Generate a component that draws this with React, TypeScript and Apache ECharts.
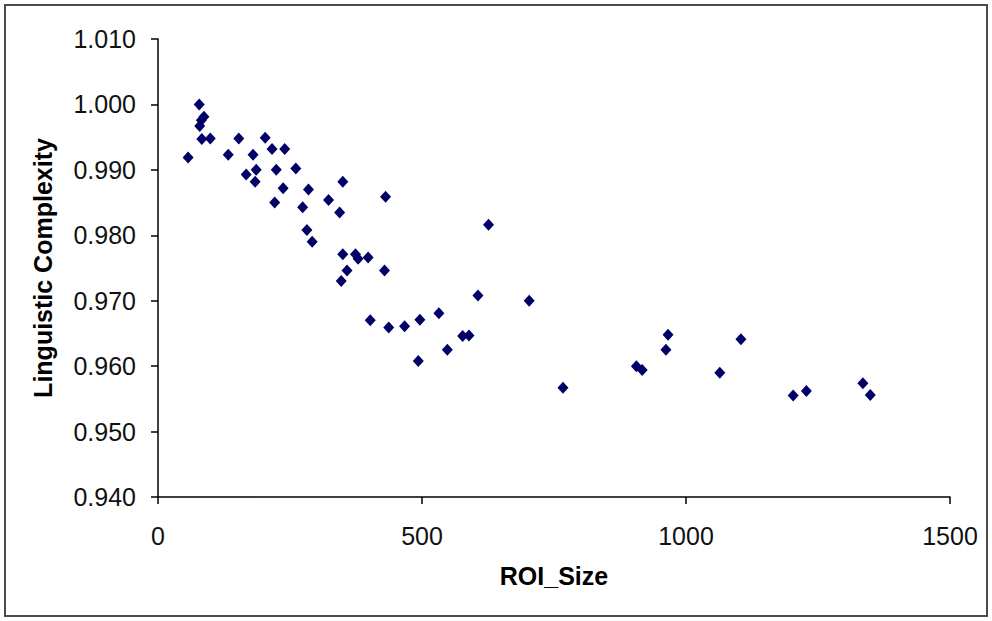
import React, { useEffect, useRef } from "react";
import * as echarts from "echarts";

const roiSize = [
  78, 87, 82, 79, 83, 99, 57, 153, 133, 203, 180, 216, 240, 167, 186, 184, 224, 261,
  237, 285, 221, 274, 350, 431, 323, 344, 282, 292, 350, 374, 379, 398, 358, 429,
  347, 626, 606, 703, 532, 496, 467, 437, 402, 577, 589, 548, 493, 767, 906, 917,
  966, 962, 1064, 1104, 1203, 1228, 1335, 1349,
];

const complexity = [
  1.0, 0.9981, 0.9976, 0.9967, 0.9947, 0.9948, 0.9919, 0.9948, 0.9923, 0.9949, 0.9923,
  0.9932, 0.9932, 0.9893, 0.99, 0.9882, 0.99, 0.9902, 0.9872, 0.987, 0.985, 0.9843,
  0.9882, 0.9859, 0.9854, 0.9835, 0.9808, 0.979, 0.9771, 0.9771, 0.9764, 0.9766,
  0.9746, 0.9746, 0.973, 0.9816, 0.9708, 0.97, 0.9681, 0.9671, 0.9661, 0.9659, 0.967,
  0.9646, 0.9647, 0.9625, 0.9608, 0.9567, 0.96, 0.9594, 0.9648, 0.9625, 0.959, 0.9641,
  0.9555, 0.9562, 0.9574, 0.9556,
];

const xTicks = { min: 0, max: 1500, interval: 500 };
const yTicks = { min: 0.94, max: 1.01, interval: 0.01 };

const xTitle = "ROI_Size";
const yTitle = "Linguistic Complexity";

export default function App() {
  const ref = useRef<HTMLDivElement>(null);

  useEffect(() => {
    if (!ref.current) return;
    const chart = echarts.init(ref.current, undefined, { renderer: "svg" });
    const points = roiSize.map((x, i) => [x, complexity[i]]);
    const font = "Arial, 'Liberation Sans', sans-serif";
    chart.setOption({
      animation: false,
      backgroundColor: "#ffffff",
      grid: { left: 158, top: 39, right: 42, bottom: 124, containLabel: false },
      graphic: [
        {
          type: "rect",
          shape: { x: 5, y: 5, width: 982, height: 611 },
          style: { fill: "none", stroke: "#4a4a4a", lineWidth: 2 },
          silent: true,
        },
      ],
      xAxis: {
        type: "value",
        min: xTicks.min,
        max: xTicks.max,
        interval: xTicks.interval,
        name: xTitle,
        nameLocation: "middle",
        nameGap: 66,
        nameTextStyle: { fontFamily: font, fontWeight: "bold", fontSize: 25, color: "#000" },
        axisLine: { show: true, onZero: false, lineStyle: { color: "#000", width: 1.5 } },
        axisTick: { show: true, inside: false, length: 7, lineStyle: { color: "#000", width: 1.5 } },
        axisLabel: {
          margin: 26,
          fontFamily: font,
          fontSize: 25,
          color: "#111",
          formatter: (v: number) => String(v),
        },
        splitLine: { show: false },
      },
      yAxis: {
        type: "value",
        min: yTicks.min,
        max: yTicks.max,
        interval: yTicks.interval,
        name: yTitle,
        nameLocation: "middle",
        nameGap: 103,
        nameTextStyle: { fontFamily: font, fontWeight: "bold", fontSize: 25, color: "#000" },
        axisLine: { show: true, onZero: false, lineStyle: { color: "#000", width: 1.5 } },
        axisTick: { show: true, inside: false, length: 7, lineStyle: { color: "#000", width: 1.5 } },
        axisLabel: {
          margin: 22,
          fontFamily: font,
          fontSize: 25,
          color: "#111",
          formatter: (v: number) => v.toFixed(3),
        },
        splitLine: { show: false },
      },
      series: [
        {
          type: "scatter",
          data: points,
          symbol: "diamond",
          symbolSize: [11, 12],
          itemStyle: { color: "#000066", opacity: 1 },
        },
      ],
    });
    return () => chart.dispose();
  }, []);

  return (
    <div
      ref={ref}
      style={{ position: "fixed", left: 0, top: 0, width: 992, height: 621 }}
    />
  );
}
